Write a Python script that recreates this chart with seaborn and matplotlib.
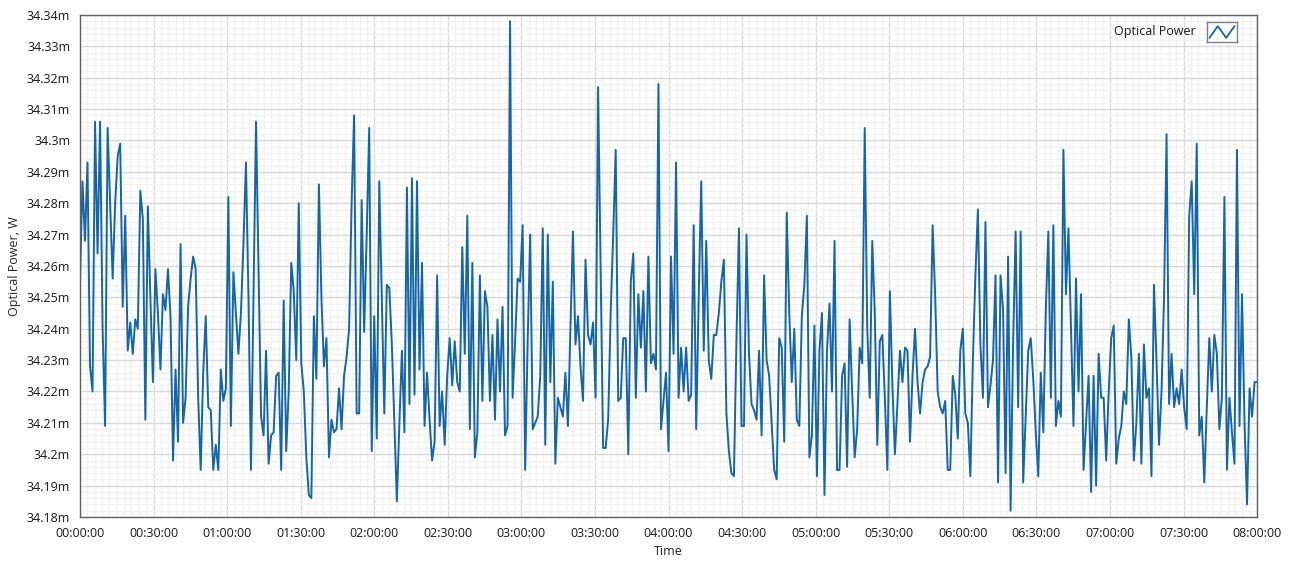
import numpy as np
import matplotlib
matplotlib.use("Agg")
import matplotlib.pyplot as plt
import seaborn as sns
from matplotlib.ticker import MultipleLocator, FuncFormatter

# optical power readings in mW, one sample per ~minute
seg1 = [34.254, 34.287, 34.268, 34.293, 34.228, 34.220, 34.306, 34.264, 34.306, 34.240, 34.209, 34.304, 34.280,
        34.256, 34.280, 34.295, 34.299, 34.247, 34.276, 34.233, 34.242, 34.232, 34.243, 34.240, 34.284, 34.275,
        34.211, 34.279, 34.250, 34.223, 34.259]
seg2 = [34.245, 34.227, 34.251, 34.246, 34.259, 34.244, 34.198, 34.227, 34.204, 34.267, 34.210, 34.218, 34.247,
        34.256, 34.263, 34.259, 34.218, 34.195, 34.226, 34.244, 34.215, 34.214, 34.195, 34.203, 34.195, 34.227,
        34.217, 34.221, 34.282, 34.209, 34.258, 34.245, 34.232, 34.245, 34.267, 34.293, 34.250, 34.195]
seg3 = [34.250, 34.306, 34.260, 34.212, 34.206, 34.233, 34.197, 34.206, 34.207, 34.225, 34.226, 34.195, 34.249,
        34.201, 34.220, 34.261, 34.252, 34.230, 34.280, 34.229, 34.220, 34.199, 34.187, 34.186, 34.244, 34.224,
        34.286, 34.250, 34.228, 34.237, 34.199, 34.211, 34.207, 34.208, 34.221, 34.208, 34.225, 34.231, 34.240,
        34.280, 34.308]
seg4 = [34.213, 34.213, 34.281, 34.239, 34.270, 34.304, 34.201, 34.244, 34.205, 34.287, 34.250, 34.213, 34.254,
        34.253, 34.235, 34.210, 34.185, 34.210, 34.233, 34.207, 34.285, 34.216, 34.288, 34.219, 34.287, 34.227,
        34.261, 34.209, 34.226, 34.211, 34.198, 34.204, 34.257, 34.209, 34.220, 34.203, 34.225, 34.237, 34.222,
        34.236]
seg5 = [34.223, 34.220, 34.266, 34.232, 34.276, 34.208, 34.261, 34.199, 34.207, 34.257, 34.217, 34.252, 34.247,
        34.217, 34.238, 34.211, 34.243, 34.220, 34.247, 34.206, 34.209, 34.338, 34.218, 34.236, 34.256, 34.255,
        34.273, 34.195, 34.236, 34.270, 34.208, 34.210, 34.212, 34.225, 34.272, 34.203, 34.270, 34.223, 34.255,
        34.197]
seg6 = [34.218, 34.215, 34.212, 34.226, 34.209, 34.240, 34.271, 34.235, 34.244, 34.228, 34.217, 34.262, 34.238,
        34.235, 34.242, 34.218, 34.317, 34.260, 34.202, 34.202, 34.211, 34.245, 34.270, 34.297, 34.217, 34.218,
        34.237, 34.237, 34.200, 34.255, 34.264, 34.218, 34.251, 34.234, 34.252, 34.220, 34.263, 34.229, 34.232,
        34.227]
seg7 = [34.318, 34.208, 34.217, 34.226, 34.201, 34.263, 34.232, 34.293, 34.218, 34.234, 34.220, 34.234, 34.217,
        34.219, 34.273, 34.208, 34.250, 34.287, 34.233, 34.268, 34.230, 34.224, 34.238, 34.238, 34.245, 34.255,
        34.262, 34.213, 34.201, 34.194, 34.193, 34.236, 34.272, 34.209, 34.209, 34.270, 34.232, 34.216, 34.214]
seg8 = [34.211, 34.233, 34.206, 34.257, 34.230, 34.225, 34.210, 34.195, 34.192, 34.237, 34.234, 34.204, 34.277,
        34.245, 34.223, 34.240, 34.211, 34.209, 34.244, 34.254, 34.276, 34.199, 34.206, 34.241, 34.193, 34.233,
        34.245, 34.187, 34.233, 34.248, 34.220, 34.268, 34.195, 34.195, 34.225, 34.229, 34.196, 34.243, 34.220,
        34.199]
seg9 = [34.208, 34.234, 34.229, 34.304, 34.240, 34.218, 34.268, 34.245, 34.203, 34.236, 34.238, 34.218, 34.195,
        34.252, 34.222, 34.200, 34.216, 34.233, 34.223, 34.234, 34.233, 34.204, 34.225, 34.240, 34.223, 34.213,
        34.223, 34.227, 34.228, 34.231, 34.273, 34.251, 34.220, 34.215, 34.213, 34.217, 34.195, 34.195, 34.225,
        34.219]
seg10 = [34.205, 34.233, 34.240, 34.213, 34.210, 34.193, 34.230, 34.257, 34.278, 34.235, 34.218, 34.274, 34.215,
         34.222, 34.230, 34.257, 34.191, 34.257, 34.246, 34.194, 34.263, 34.182, 34.236, 34.271, 34.215, 34.271,
         34.191, 34.212, 34.233, 34.237, 34.224, 34.207, 34.193, 34.226, 34.207, 34.246, 34.271, 34.218, 34.273,
         34.209]
seg11 = [34.217, 34.212, 34.297, 34.251, 34.272, 34.240, 34.209, 34.256, 34.220, 34.251, 34.195, 34.210, 34.225,
         34.188, 34.225, 34.190, 34.232, 34.218, 34.218, 34.198, 34.220, 34.237, 34.241, 34.197, 34.205, 34.209,
         34.220, 34.216, 34.243, 34.231, 34.198, 34.210, 34.232, 34.197, 34.235, 34.218, 34.221, 34.193, 34.254]
seg12 = [34.230, 34.203, 34.220, 34.250, 34.302, 34.216, 34.232, 34.215, 34.221, 34.216, 34.227, 34.215, 34.208,
         34.276, 34.287, 34.251, 34.299, 34.206, 34.212, 34.191, 34.215, 34.237, 34.220, 34.238, 34.232, 34.208,
         34.218, 34.282, 34.195, 34.218, 34.207, 34.197, 34.297, 34.209, 34.251, 34.210, 34.184, 34.221, 34.212,
         34.223, 34.223]

power_mw = np.array(seg1 + seg2 + seg3 + seg4 + seg5 + seg6 + seg7 + seg8 + seg9 + seg10 + seg11 + seg12)
duration_min = 480
time_min = np.arange(len(power_mw)) * duration_min / (len(power_mw) - 1)

line_color = "#1565a9"
font = ["Open Sans", "DejaVu Sans"]

sns.set_style("white")
plt.rcParams["font.family"] = font
plt.rcParams["font.size"] = 9

fig = plt.figure(figsize=(13, 5.68), dpi=100)
ax = fig.add_axes([0.0615, 0.0898, 0.9055, 0.8838])

sns.lineplot(x=time_min, y=power_mw, ax=ax, color=line_color, linewidth=1.4, legend=False)

ax.set_xlim(0, duration_min)
ax.set_ylim(34.18, 34.34)
ax.xaxis.set_major_locator(MultipleLocator(30))
ax.xaxis.set_minor_locator(MultipleLocator(3))
ax.yaxis.set_major_locator(MultipleLocator(0.01))
ax.yaxis.set_minor_locator(MultipleLocator(0.002))
ax.xaxis.set_major_formatter(FuncFormatter(lambda v, p: f"{int(round(v)) // 60:02d}:{int(round(v)) % 60:02d}:00"))
ax.yaxis.set_major_formatter(FuncFormatter(lambda v, p: f"{round(v, 3):g}m"))

ax.grid(which="major", color="#dadada", linewidth=1.0)
ax.grid(which="minor", color="#f3f3f3", linewidth=1.0)
ax.set_axisbelow(True)
for s in ax.spines.values():
    s.set_color("#606060")
    s.set_linewidth(1.0)
ax.tick_params(which="major", direction="out", length=5, width=1, color="#303030",
               labelsize=9, labelcolor="#1a1a1a", pad=2)
ax.tick_params(which="minor", length=0)

ax.set_xlabel("Time", fontsize=9, labelpad=4)
ax.set_ylabel("Optical Power, W", fontsize=9, labelpad=4)

# legend: name text plus boxed zigzag glyph
fig.text(1196 / 1300, 1 - 31 / 568, "Optical Power", ha="right", va="center", fontsize=9, color="#1a1a1a")
icon = fig.add_axes([1207 / 1300, 1 - 42 / 568, 30 / 1300, 20 / 568])
icon.plot([0, 1, 2, 3], [0, 1, 0, 1], color=line_color, linewidth=1.3)
icon.set_xlim(-0.3, 3.3)
icon.set_ylim(-0.35, 1.35)
icon.set_xticks([])
icon.set_yticks([])
for s in icon.spines.values():
    s.set_color("#808080")
    s.set_linewidth(1.0)

fig.savefig("out.png", dpi=100)
